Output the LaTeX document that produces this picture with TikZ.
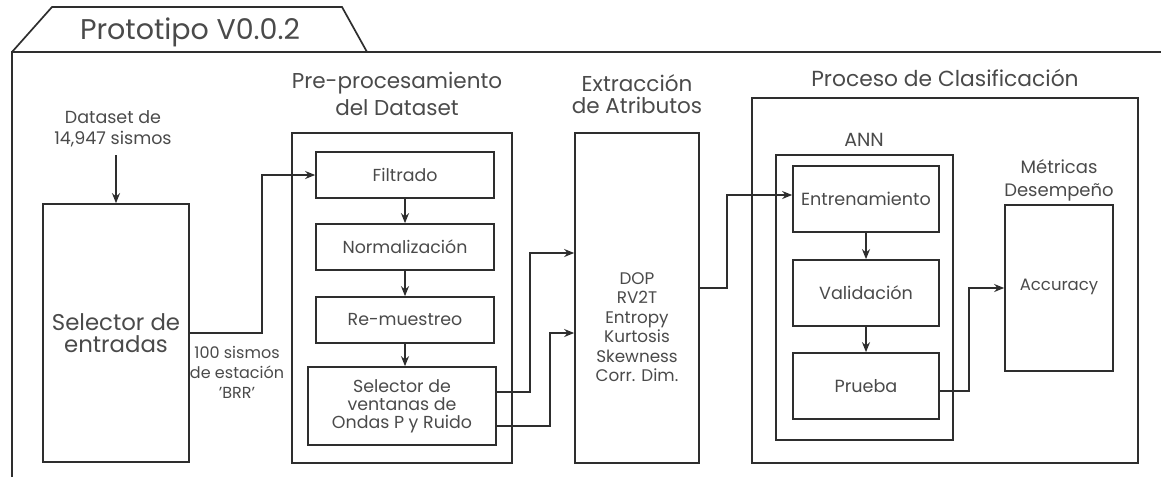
\documentclass[tikz,border=0pt]{standalone}
\usepackage{fontspec}
\setmainfont{Poppins}
\usetikzlibrary{arrows.meta,calc}
\definecolor{ln}{HTML}{2E2E2E}
\definecolor{tx}{HTML}{4A4A4A}
\newcommand{\fs}[2]{\fontsize{#1}{#2}\selectfont}
\tikzset{
  bx/.style={draw=ln, line width=1.7pt, rectangle, inner sep=0pt, align=center, text=tx},
  lbl/.style={inner sep=0pt, align=center, text=tx},
  con/.style={draw=ln, line width=1.7pt},
  arr/.style={con, -{Stealth[length=10pt,width=8pt]}},
}
\begin{document}
\begin{tikzpicture}[x=1pt,y=-1pt]
\useasboundingbox (0,0) rectangle (1161,477);
% frame with tab
\draw[con] (12,477) -- (12,52) -- (1161,52);
\draw[con] (12,52) -- (52,7) -- (342,7) -- (367,52);
\node[lbl, font=\fs{28.5}{32}] (title) at (190,32) {Prototipo V0.0.2};

% input
\node[lbl, font=\fs{17.5}{21}] (data) at (113,129) {Dataset de\\14,947 sismos};
\node[bx, minimum width=146, minimum height=258, font=\fs{22.8}{22}] (sel) at (116,333) {Selector de\\entradas};
\node[lbl, font=\fs{16}{20}] (lab) at (237,372) {100 sismos\\de estación\\'BRR'};

% preprocessing
\node[lbl, font=\fs{21.5}{27}] (pret) at (397,94) {Pre-procesamiento\\del Dataset};
\node[bx, minimum width=220, minimum height=330] (pre) at (402,298) {};
\node[bx, minimum width=178, minimum height=46, font=\fs{17.4}{20}] (filt) at (405,175) {Filtrado};
\node[bx, minimum width=178, minimum height=46, font=\fs{17.4}{20}] (norm) at (405,247) {Normalización};
\node[bx, minimum width=178, minimum height=46, font=\fs{17.4}{20}] (remu) at (405,320) {Re-muestreo};
\node[bx, minimum width=188, minimum height=78, font=\fs{17.4}{18}] (selv) at (402,406) {Selector de\\ventanas de\\Ondas P y Ruido};

% extraction
\node[lbl, font=\fs{21.5}{22}] (extt) at (637,94) {Extracción\\de Atributos};
\node[bx, minimum width=124, minimum height=330] (extr) at (637,298) {};
\node[lbl, font=\fs{16.8}{19.5}] (feat) at (637,327) {DOP\\RV2T\\Entropy\\Kurtosis\\Skewness\\Corr. Dim.};

% classification
\node[lbl, font=\fs{21.8}{24}] (prot) at (945,78) {Proceso de Clasificación};
\node[bx, minimum width=386, minimum height=365] (proc) at (945,280.5) {};
\node[lbl, font=\fs{19}{20}] (annt) at (864,140) {ANN};
\node[bx, minimum width=177, minimum height=285] (ann) at (864.5,297.5) {};
\node[bx, minimum width=146, minimum height=66, font=\fs{17.6}{20}] (entr) at (866,199) {Entrenamiento};
\node[bx, minimum width=146, minimum height=66, font=\fs{17.6}{20}] (val) at (866,293) {Validación};
\node[bx, minimum width=146, minimum height=66, font=\fs{17.6}{20}] (pru) at (866,386) {Prueba};
\node[lbl, font=\fs{18}{23}] (mett) at (1059,180) {Métricas\\Desempeño};
\node[bx, minimum width=108, minimum height=166] (met) at (1059,288) {};
\node[lbl, font=\fs{16.5}{20}] (acc) at (1059,287) {Accuracy};

% connectors
\draw[arr] (data.south -| sel.north) ++(0,8) coordinate (d0) -- (d0 |- sel.north);
\draw[arr] (sel.east) -- ++(72,0) |- (filt.west);
\draw[arr] (filt.south) -- (norm.north);
\draw[arr] (norm.south) -- (remu.north);
\draw[arr] (remu.south) -- (remu.south |- selv.north);
\draw[arr] ($(selv.east)+(0,-14)$) -- ++(33,0) |- ($(extr.west)+(0,-45)$);
\draw[arr] ($(selv.east)+(0,20)$) -- ++(53,0) |- ($(extr.west)+(0,35)$);
\draw[arr] ($(extr.east)+(0,-10)$) -- ++(27,0) |- ($(entr.west)+(0,-4)$);
\draw[arr] (entr.south) -- (val.north);
\draw[arr] (val.south) -- (pru.north);
\draw[arr] ($(pru.east)+(0,5)$) -- ++(29,0) |- (met.west);
\end{tikzpicture}
\end{document}
